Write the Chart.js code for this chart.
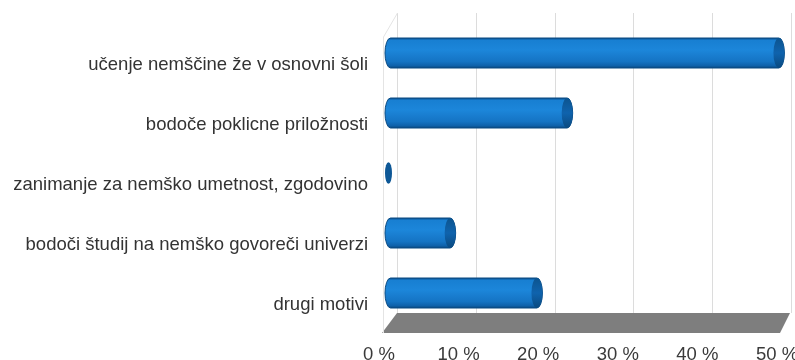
<!DOCTYPE html>
<html>
<head>
<meta charset="utf-8">
<script src="https://cdn.jsdelivr.net/npm/chart.js@4"></script>
<style>
  html, body { margin: 0; padding: 0; background: #ffffff; }
  #wrap { width: 795px; height: 360px; position: relative; }
</style>
</head>
<body>
<div id="wrap"><canvas id="c" width="795" height="360"></canvas></div>
<script>
// ---- data ----
const categories = [
  'učenje nemščine že v osnovni šoli',
  'bodoče poklicne priložnosti',
  'zanimanje za nemško umetnost, zgodovino',
  'bodoči študij na nemško govoreči univerzi',
  'drugi motivi'
];
const values = [49.8, 23.2, 0.5, 8.5, 19.4];
const tickValues = [0, 10, 20, 30, 40, 50];
const tickLabels = ['0 %', '10 %', '20 %', '30 %', '40 %', '50 %'];

// ---- 3D scene plugin (walls, floor, back grid, cylinders) ----
const scene3d = {
  id: 'scene3d',
  beforeDatasetsDraw(chart) {
    const ctx = chart.ctx;
    const { left, right, top, bottom } = chart.chartArea;
    const xs = chart.scales.x;
    ctx.save();
    // floor
    const backY = bottom - 10, frontY = bottom + 10;
    const xEnd = xs.getPixelForValue(50);
    ctx.beginPath();
    ctx.moveTo(left - 3, frontY);
    ctx.lineTo(xEnd - 3, frontY);
    ctx.lineTo(xEnd + 7, backY);
    ctx.lineTo(left + 12, backY);
    ctx.closePath();
    ctx.fillStyle = '#7e7e7e';
    ctx.fill();
    // back grid lines
    ctx.strokeStyle = '#dcdcdc';
    ctx.lineWidth = 1;
    tickValues.forEach(v => {
      const xf = xs.getPixelForValue(v);
      const xb = Math.round(left + 12 + (xf - left) * 0.99) + 0.5;
      ctx.beginPath();
      ctx.moveTo(xb, top - 10);
      ctx.lineTo(xb, backY);
      ctx.stroke();
    });
    // left wall edge
    ctx.strokeStyle = '#e4e4e4';
    ctx.beginPath();
    ctx.moveTo(left + 12.5, top - 10);
    ctx.lineTo(left - 1.5, top + 14);
    ctx.lineTo(left - 1.5, frontY);
    ctx.stroke();
    ctx.restore();
  },
  afterDatasetsDraw(chart) {
    const ctx = chart.ctx;
    const meta = chart.getDatasetMeta(0);
    ctx.save();
    meta.data.forEach(el => {
      const h = el.height;
      const ry = h / 2;
      const yc = el.y;
      const x0 = el.base;
      const x1 = el.x + 3;
      const grad = ctx.createLinearGradient(0, yc - ry, 0, yc + ry);
      grad.addColorStop(0, '#0b4f8c');
      grad.addColorStop(0.08, '#187fd2');
      grad.addColorStop(0.4, '#1c86da');
      grad.addColorStop(0.78, '#1574c4');
      grad.addColorStop(0.92, '#0f62ab');
      grad.addColorStop(1, '#0a4a82');
      const w = x1 - x0;
      let rx = 5.5;
      if (w < 2 * rx) {
        rx = w / 2;
        ctx.beginPath();
        ctx.ellipse(x0 + rx, yc, rx, ry * 0.72, 0, 0, Math.PI * 2);
        ctx.fillStyle = '#0d5796';
        ctx.fill();
        return;
      }
      ctx.beginPath();
      ctx.moveTo(x0 + rx, yc - ry);
      ctx.lineTo(x1 - rx, yc - ry);
      ctx.ellipse(x1 - rx, yc, rx, ry, 0, -Math.PI / 2, Math.PI / 2);
      ctx.lineTo(x0 + rx, yc + ry);
      ctx.ellipse(x0 + rx, yc, rx, ry, 0, Math.PI / 2, Math.PI * 1.5);
      ctx.closePath();
      ctx.fillStyle = grad;
      ctx.fill();
      ctx.strokeStyle = '#0a4a82';
      ctx.lineWidth = 1;
      ctx.stroke();
      // right end cap
      const cg = ctx.createLinearGradient(0, yc - ry, 0, yc + ry);
      cg.addColorStop(0, '#0c548f');
      cg.addColorStop(0.5, '#0f63ad');
      cg.addColorStop(1, '#0a4a80');
      ctx.beginPath();
      ctx.ellipse(x1 - rx, yc, rx, ry, 0, 0, Math.PI * 2);
      ctx.fillStyle = cg;
      ctx.fill();
    });
    ctx.restore();
  }
};

const FONT = { family: "'Liberation Sans', Arial, sans-serif", size: 18.5 };

new Chart(document.getElementById('c'), {
  type: 'bar',
  data: {
    labels: categories,
    datasets: [{
      data: values,
      backgroundColor: 'rgba(0,0,0,0)',
      borderWidth: 0,
      barPercentage: 0.5,
      categoryPercentage: 1.0
    }]
  },
  options: {
    indexAxis: 'y',
    responsive: false,
    animation: false,
    events: [],
    layout: { padding: { top: 23, right: 12, bottom: 0, left: 0 } },
    plugins: { legend: { display: false }, tooltip: { enabled: false }, title: { display: false } },
    scales: {
      x: {
        min: 0, max: 50,
        afterBuildTicks(scale) { scale.ticks = tickValues.map(v => ({ value: v })); },
        afterFit(scale) {
          scale.height = 37;
          scale.paddingLeft = 0; scale.paddingRight = 0;
        },
        grid: { display: false, drawTicks: false },
        border: { display: false },
        ticks: {
          font: FONT, color: '#3a3a3a', padding: 21, labelOffset: -6,
          callback: (v) => tickLabels[tickValues.indexOf(v)]
        }
      },
      y: {
        afterFit(scale) {
          scale.width = 385;
          scale.paddingTop = 0; scale.paddingBottom = 0;
        },
        grid: { display: false, drawTicks: false },
        border: { display: false },
        ticks: { font: FONT, color: '#333333', padding: 17, labelOffset: 12 }
      }
    }
  },
  plugins: [scene3d]
});
</script>
</body>
</html>
